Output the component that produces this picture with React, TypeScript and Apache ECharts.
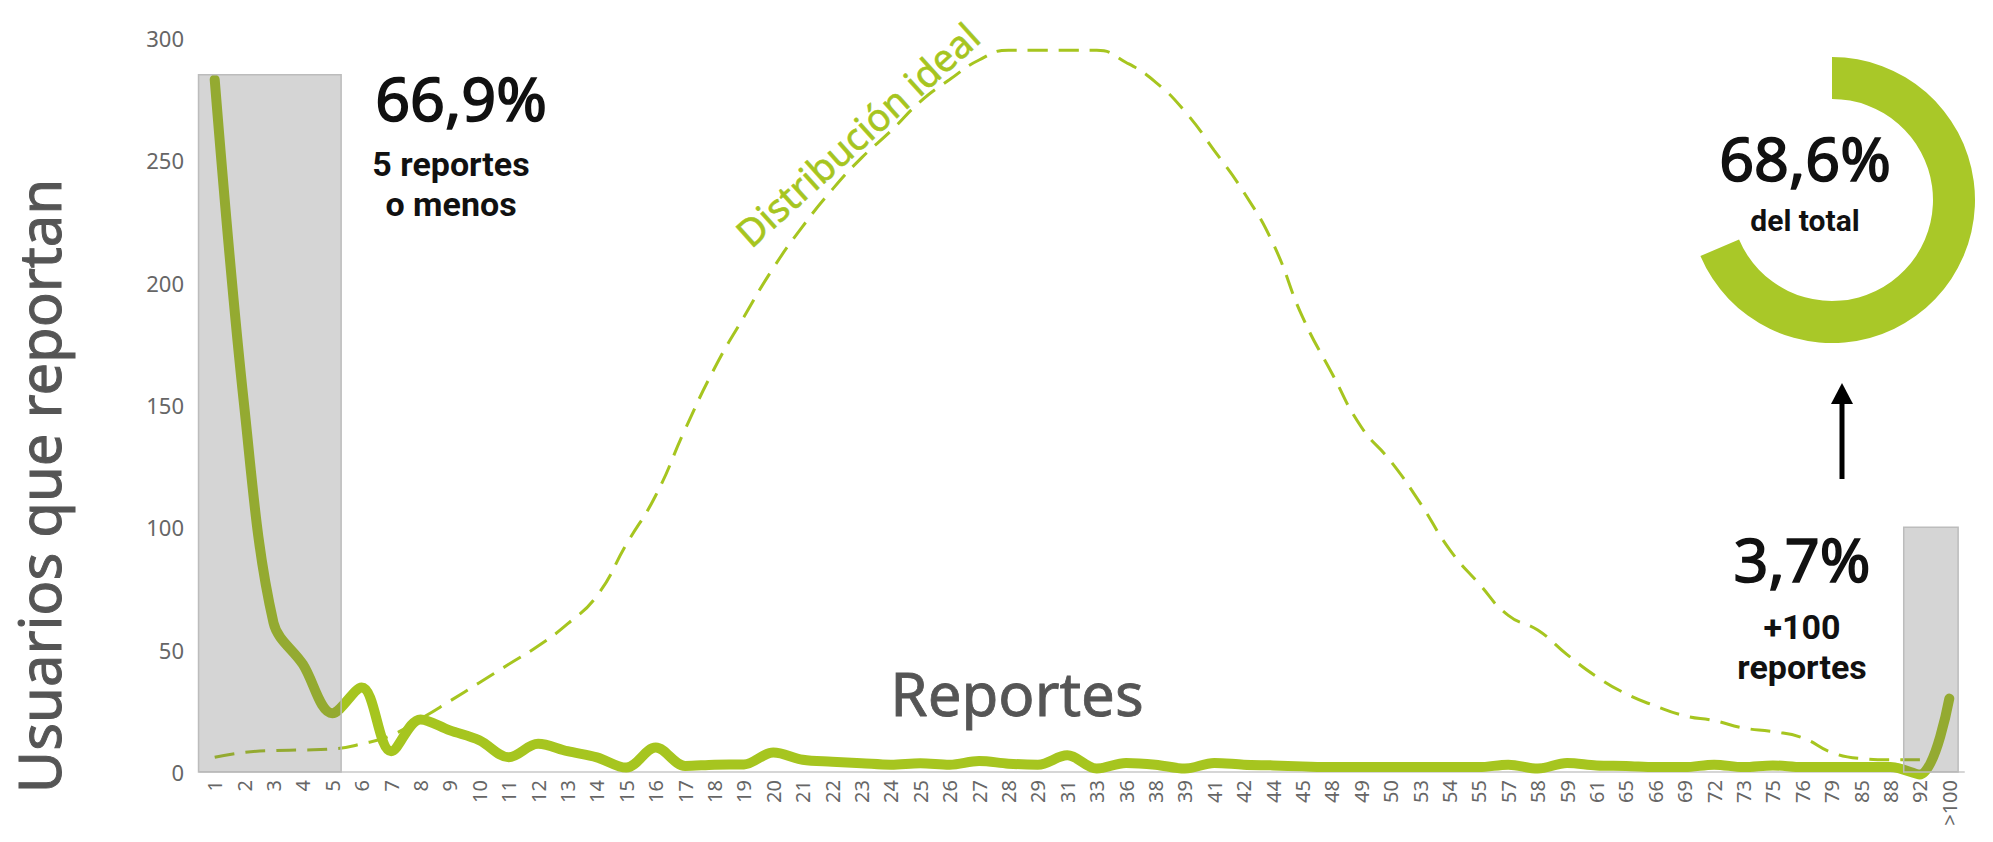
import React, { useEffect, useRef } from "react";
import * as echarts from "echarts";

const categories = [
  "1","2","3","4","5","6","7","8","9","10","11","12","13","14","15","16","17","18","19","20",
  "21","22","23","24","25","26","27","28","29","31","33","36","38","39","41","42","44","45","48","49",
  "50","53","54","55","57","58","59","61","65","66","69","72","73","75","76","79","85","88","92",">100",
];

const yTicks = [0, 50, 100, 150, 200, 250, 300];

const usuarios = [
  283, 150, 61, 44, 24, 34.5, 8.5, 21.5, 17, 13,
  6, 11.5, 8.5, 6, 1.8, 10, 2.5, 3, 3.1, 8,
  5, 4.2, 3.6, 3, 3.6, 3, 4.5, 3.4, 3, 6.8,
  1.4, 3.7, 3, 1.4, 3.7, 3, 2.7, 2.3, 2, 2,
  2, 2, 2, 2, 3, 1.4, 3.7, 2.7, 2.5, 2,
  2, 3, 2, 2.7, 2, 2, 2, 2, -1, 30,
];

const ideal = [
  6, 8, 8.8, 9, 9.4, 11.5, 15, 21.7, 29, 36.5,
  44, 51.5, 60.5, 72, 93, 113, 140, 165, 186, 206,
  223, 238, 251, 262, 274, 283, 291, 295, 295, 295,
  295, 290, 282, 270, 254, 237, 216, 186, 163, 141,
  127, 110, 91, 77, 64, 58, 48, 39, 32, 27,
  23, 21, 18, 16.5, 14, 8, 5.5, 5, 5, null,
];

const shadedRanges = [
  { from: "1", to: "5", top: 285 },
  { from: "92", to: ">100", top: 100 },
];

const totalShare = [68.6, 31.4];

const FONT = "'Noto Sans', 'DejaVu Sans', sans-serif";
const FONT_BOLD = "Roboto, 'Noto Sans', sans-serif";
const GREEN = "#a6c51f";

export default function App() {
  const ref = useRef<HTMLDivElement>(null);

  useEffect(() => {
    if (!ref.current) return;
    const chart = echarts.init(ref.current, undefined, { renderer: "svg" });

    const rectData = shadedRanges.map((r) => [
      categories.indexOf(r.from),
      categories.indexOf(r.to),
      r.top,
    ]);

    const txt = (
      text: string,
      x: number,
      y: number,
      fontSize: number,
      fill: string,
      fontWeight: any = "normal",
      rotation = 0,
      border = 0,
      lineHeight = fontSize,
      fontFamily = FONT
    ) => ({
      type: "text",
      x,
      y,
      rotation,
      silent: true,
      z: 20,
      style: {
        text,
        fontSize,
        lineHeight,
        fontWeight,
        fontFamily,
        fill,
        align: "center",
        verticalAlign: "middle",
        ...(border > 0 ? { stroke: fill, lineWidth: border } : {}),
      },
    });

    chart.setOption({
      animation: false,
      backgroundColor: "#ffffff",
      grid: { left: 200, right: 29, top: 38, bottom: 70, containLabel: false },
      xAxis: {
        type: "category",
        data: categories,
        boundaryGap: true,
        axisLine: { lineStyle: { color: "#d6d6d6", width: 2 } },
        axisTick: { show: false },
        axisLabel: {
          rotate: 90,
          interval: 0,
          fontSize: 20,
          color: "#666",
          margin: 8,
          fontFamily: FONT,
        },
        splitLine: { show: false },
      },
      yAxis: {
        type: "value",
        min: yTicks[0],
        max: yTicks[yTicks.length - 1],
        interval: yTicks[1] - yTicks[0],
        axisLine: { show: false },
        axisTick: { show: false },
        splitLine: { show: false },
        axisLabel: { fontSize: 22, color: "#666", margin: 16, fontFamily: FONT },
      },
      series: [
        {
          name: "Distribución ideal",
          type: "line",
          data: ideal,
          smooth: 0.5,
          symbol: "none",
          clip: false,
          z: 2,
          lineStyle: { color: GREEN, width: 3, type: [20, 11] },
        },
        {
          name: "Usuarios que reportan",
          type: "line",
          data: usuarios,
          smooth: 0.35,
          symbol: "none",
          clip: false,
          z: 3,
          lineStyle: { color: GREEN, width: 10, cap: "round", join: "round" },
        },
        {
          type: "custom",
          silent: true,
          z: 5,
          encode: { x: [0, 1], y: 2 },
          data: rectData,
          renderItem: (params: any, api: any) => {
            const start = api.coord([api.value(0), api.value(2)]);
            const end = api.coord([api.value(1), 0]);
            const w = api.size([1, 0])[0];
            const left = start[0] - 0.55 * w;
            const right = end[0] + 0.3 * w;
            return {
              type: "rect",
              shape: { x: left, y: start[1], width: right - left, height: end[1] - start[1] },
              style: { fill: "rgba(100,100,100,0.27)", stroke: "#bcbcbc", lineWidth: 1.5 },
            };
          },
        },
        {
          type: "pie",
          silent: true,
          center: [1832, 200],
          radius: [101, 143],
          startAngle: 90,
          clockwise: true,
          label: { show: false },
          labelLine: { show: false },
          emphasis: { disabled: true },
          data: [
            { value: totalShare[0], itemStyle: { color: "#a9c828" } },
            { value: totalShare[1], itemStyle: { color: "rgba(0,0,0,0)" } },
          ],
        },
      ],
      graphic: [
        txt("Usuarios que reportan", 38, 486, 58, "#555", "normal", Math.PI / 2, 1),
        txt("Reportes", 1017, 693, 60, "#555", "normal", 0, 0.8),
        txt("Distribución ideal", 857, 134, 38, GREEN, "normal", (42 * Math.PI) / 180, 0.6),
        txt("66,9%", 461, 97, 61, "#111", "normal", 0, 1.6),
        txt("5 reportes\no menos", 451, 184, 34, "#111", "bold", 0, 0, 40, FONT_BOLD),
        txt("68,6%", 1805, 157, 61, "#111", "normal", 0, 1.6),
        txt("del total", 1805, 220, 30, "#111", "bold", 0, 0, 30, FONT_BOLD),
        txt("3,7%", 1802, 558, 61, "#111", "normal", 0, 1.6),
        txt("+100\nreportes", 1802, 647, 34, "#111", "bold", 0, 0, 40, FONT_BOLD),
        {
          type: "line",
          silent: true,
          shape: { x1: 1842, y1: 479, x2: 1842, y2: 400 },
          style: { stroke: "#000", lineWidth: 5 },
        },
        {
          type: "polygon",
          silent: true,
          shape: { points: [[1831, 404], [1853, 404], [1842, 383]] },
          style: { fill: "#000" },
        },
      ],
    });

    return () => chart.dispose();
  }, []);

  return (
    <div
      ref={ref}
      style={{ position: "fixed", left: 0, top: 0, width: 1993, height: 842 }}
    />
  );
}
